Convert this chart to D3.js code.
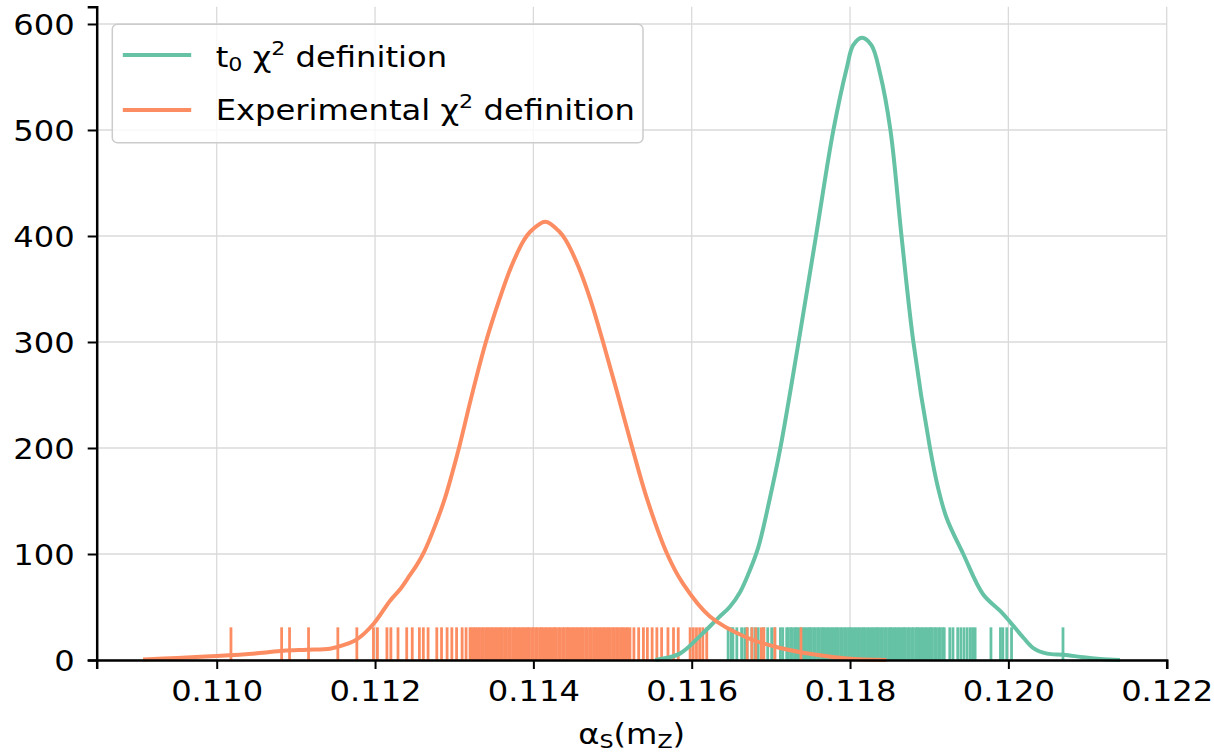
<!DOCTYPE html>
<html>
<head>
<meta charset="utf-8">
<script src="https://cdn.jsdelivr.net/npm/d3@7"></script>
<style>
  html, body { margin: 0; padding: 0; background: #ffffff; }
  svg text { font-family: "DejaVu Sans", sans-serif; fill: #000; }
</style>
</head>
<body>
<svg id="chart" width="1214" height="755"></svg>
<script>
// ---------------- data ----------------
const seriesNames = ["t0 \u03c7\u00b2 definition", "Experimental \u03c7\u00b2 definition"];
const seriesColors = ["#66c2a5", "#fc8d62"];

// KDE curve for t0 definition: [alpha_s, density]
const t0CurveX = [0.11554, 0.11585, 0.11611, 0.11634, 0.11648, 0.11661, 0.11672, 0.11684, 0.11698, 0.11712,
  0.11735, 0.11757, 0.11779, 0.11796, 0.11804, 0.11815, 0.11827, 0.11838, 0.11851, 0.11865,
  0.11880, 0.11901, 0.11911, 0.11922, 0.11943, 0.11968, 0.11990, 0.12002, 0.12019, 0.12032,
  0.12049, 0.12070, 0.12095, 0.12116, 0.12141];
const t0CurveY = [0, 6, 23, 40, 50, 64, 82, 106, 150, 200,
  300, 400, 500, 559, 580, 587, 580, 553, 500, 400,
  300, 200, 163, 134, 100, 62, 46, 36, 21, 11,
  6, 5, 2.5, 1, 0];

// KDE curve for experimental definition
const expCurveX = [0.10907, 0.10950, 0.11000, 0.11051, 0.11084, 0.11114, 0.11143, 0.11160, 0.11177, 0.11198,
  0.11219, 0.11232, 0.11244, 0.11253, 0.11262, 0.11276, 0.11288, 0.11297, 0.11306, 0.11323,
  0.11340, 0.11357, 0.11372, 0.11388, 0.11396, 0.11415, 0.11433, 0.11441, 0.11457, 0.11472,
  0.11488, 0.11506, 0.11525, 0.11544, 0.11569, 0.11589, 0.11623, 0.11670, 0.11712, 0.11753,
  0.11796, 0.11846];
const expCurveY = [0.5, 2, 3.8, 6.3, 8.8, 9.7, 10.7, 14, 19.5, 34,
  56, 67, 80, 90, 102, 127, 152, 175, 200, 252,
  300, 340, 371, 396, 404, 413.5, 404, 396, 371, 340,
  300, 252, 200, 151, 100, 72, 41, 21, 11.3, 5.4,
  1.5, 0];

// rug samples (individual replicas)
const t0Samples = [0.11646, 0.11650, 0.11652, 0.11657, 0.11663, 0.11667, 0.11670, 0.11676, 0.11680, 0.11684,
  0.11691, 0.11696, 0.11701, 0.11705, 0.11712, 0.11715,
  0.11720, 0.11722, 0.11725, 0.11727, 0.11730, 0.11732, 0.11734, 0.11737, 0.11739, 0.11742, 0.11744, 0.11747,
  0.11749, 0.11751, 0.11754, 0.11756, 0.11759, 0.11761, 0.11764, 0.11766, 0.11768, 0.11771, 0.11773, 0.11776,
  0.11778, 0.11781, 0.11783, 0.11785, 0.11788, 0.11790, 0.11793, 0.11795, 0.11798, 0.11800, 0.11802, 0.11805,
  0.11807, 0.11810, 0.11812, 0.11815, 0.11817, 0.11819, 0.11822, 0.11824, 0.11827, 0.11829, 0.11832, 0.11834,
  0.11836, 0.11839, 0.11841, 0.11844, 0.11846, 0.11849, 0.11851, 0.11853, 0.11856, 0.11858, 0.11861, 0.11863,
  0.11866, 0.11868, 0.11870, 0.11873, 0.11875, 0.11878, 0.11880, 0.11883, 0.11885, 0.11887, 0.11890, 0.11892,
  0.11895, 0.11897, 0.11900, 0.11902, 0.11904, 0.11907, 0.11909, 0.11912, 0.11914, 0.11917, 0.11919,
  0.11926, 0.11930, 0.11936, 0.11940, 0.11944, 0.11948, 0.11952, 0.11955, 0.11958,
  0.11978, 0.11990, 0.11993, 0.11998, 0.12004, 0.12069];

const expSamples = [0.11018, 0.11082, 0.11092, 0.11116, 0.11153, 0.11177, 0.11198, 0.11203, 0.11215, 0.11220,
  0.11229, 0.11240, 0.11247, 0.11256, 0.11261, 0.11267, 0.11278, 0.11284, 0.11291, 0.11297, 0.11303, 0.11310, 0.11315,
  0.11320, 0.11322, 0.11325, 0.11327, 0.11330, 0.11332, 0.11335, 0.11337, 0.11340, 0.11342, 0.11344, 0.11347,
  0.11349, 0.11352, 0.11354, 0.11357, 0.11359, 0.11361, 0.11364, 0.11366, 0.11369, 0.11371, 0.11374, 0.11376,
  0.11378, 0.11381, 0.11383, 0.11386, 0.11388, 0.11391, 0.11393, 0.11395, 0.11398, 0.11400, 0.11403, 0.11405,
  0.11408, 0.11410, 0.11412, 0.11415, 0.11417, 0.11420, 0.11422, 0.11425, 0.11427, 0.11429, 0.11432, 0.11434,
  0.11437, 0.11439, 0.11442, 0.11444, 0.11446, 0.11449, 0.11451, 0.11454, 0.11456, 0.11459, 0.11461, 0.11463,
  0.11466, 0.11468, 0.11471, 0.11473, 0.11476, 0.11478, 0.11480, 0.11483, 0.11485, 0.11488, 0.11490, 0.11493,
  0.11495, 0.11497, 0.11500, 0.11502, 0.11505, 0.11507, 0.11510, 0.11512, 0.11514, 0.11517, 0.11519, 0.11522,
  0.11527, 0.11533, 0.11539, 0.11544, 0.11550, 0.11556, 0.11562, 0.11570, 0.11577, 0.11583,
  0.11598, 0.11602, 0.11606, 0.11610, 0.11614, 0.11619, 0.11670, 0.11676, 0.11681, 0.11688, 0.11691, 0.11705, 0.11738];

const xTicks = [0.110, 0.112, 0.114, 0.116, 0.118, 0.120, 0.122];
const yTicks = [0, 100, 200, 300, 400, 500, 600];
const xDomain = [0.108484, 0.122];
const yDomain = [0, 616.3];

// ---------------- layout ----------------
const mLeft = 96.7, mRight = 1166.7, mTop = 6.7, mBottom = 660;
const fontSize = 29;
const stretch = 1.11;   // horizontal stretch of text in the reference

const svg = d3.select("#chart");
const x = d3.scaleLinear().domain(xDomain).range([mLeft, mRight]);
const y = d3.scaleLinear().domain(yDomain).range([mBottom, mTop]);

// grid
const grid = svg.append("g");
grid.selectAll("line.gx").data(xTicks).join("line")
  .attr("x1", d => x(d)).attr("x2", d => x(d)).attr("y1", mTop).attr("y2", mBottom)
  .attr("stroke", "#dadada").attr("stroke-width", 1.3);
grid.selectAll("line.gy").data(yTicks).join("line")
  .attr("x1", mLeft).attr("x2", mRight).attr("y1", d => y(d)).attr("y2", d => y(d))
  .attr("stroke", "#dadada").attr("stroke-width", 1.3);

// rugs
const rugH = (mBottom - mTop) * 0.05;
function rug(samples, color) {
  svg.append("g").selectAll("line").data(samples).join("line")
    .attr("x1", d => x(d)).attr("x2", d => x(d))
    .attr("y1", mBottom).attr("y2", mBottom - rugH)
    .attr("stroke", color).attr("stroke-width", 2.8);
}
rug(t0Samples, seriesColors[0]);
rug(expSamples, seriesColors[1]);

// curves
const line = d3.line().x(d => x(d[0])).y(d => y(d[1])).curve(d3.curveCatmullRom.alpha(0.5));
svg.append("path").datum(d3.zip(t0CurveX, t0CurveY))
  .attr("d", line).attr("fill", "none").attr("stroke", seriesColors[0]).attr("stroke-width", 4)
  .attr("stroke-linejoin", "round");
svg.append("path").datum(d3.zip(expCurveX, expCurveY))
  .attr("d", line).attr("fill", "none").attr("stroke", seriesColors[1]).attr("stroke-width", 4)
  .attr("stroke-linejoin", "round");

// axes
const xAxis = svg.append("g").attr("transform", `translate(0,${mBottom})`)
  .call(d3.axisBottom(x).tickValues(xTicks).tickFormat(d3.format(".3f")).tickSizeOuter(0).tickSize(9).tickPadding(10));
const yAxis = svg.append("g").attr("transform", `translate(${mLeft},0)`)
  .call(d3.axisLeft(y).tickValues(yTicks).tickSizeOuter(0).tickSize(9).tickPadding(13));
[xAxis, yAxis].forEach(a => {
  a.select(".domain").attr("stroke", "#000").attr("stroke-width", 2.5);
  a.selectAll(".tick line").attr("stroke", "#000").attr("stroke-width", 2);
  a.selectAll(".tick text").attr("font-size", fontSize).attr("font-family", "DejaVu Sans").attr("fill", "#000");
});
xAxis.selectAll(".tick text").attr("dy", "0.76em").attr("transform", `scale(${stretch},1)`);
yAxis.selectAll(".tick text").attr("dy", "0.36em")
  .attr("x", -22 / stretch).attr("transform", `scale(${stretch},1)`);

// x label alpha_S(m_Z)
const xl = svg.append("text")
  .attr("transform", `translate(${(mLeft + mRight) / 2},744) scale(${stretch},1)`)
  .attr("text-anchor", "middle").attr("font-size", fontSize);
xl.append("tspan").text("\u03b1");
xl.append("tspan").attr("font-size", 20).attr("dy", 4).text("S");
xl.append("tspan").attr("dy", -4).text("(m");
xl.append("tspan").attr("font-size", 20).attr("dy", 4).text("Z");
xl.append("tspan").attr("dy", -4).text(")");

// legend
const lg = svg.append("g");
lg.append("rect").attr("x", 112.3).attr("y", 24.3).attr("width", 530.7).attr("height", 118.4)
  .attr("rx", 5).attr("fill", "#fff").attr("fill-opacity", 0.8)
  .attr("stroke", "#cccccc").attr("stroke-width", 1.5);
const legendLineY = [55, 110];
const legendTextY = [67, 120];
seriesNames.forEach((name, i) => {
  lg.append("line").attr("x1", 122.8).attr("x2", 191.2)
    .attr("y1", legendLineY[i]).attr("y2", legendLineY[i])
    .attr("stroke", seriesColors[i]).attr("stroke-width", 4);
  const t = lg.append("text")
    .attr("transform", `translate(215.7,${legendTextY[i]}) scale(${stretch},1)`)
    .attr("font-size", fontSize);
  if (i === 0) {
    t.append("tspan").text("t");
    t.append("tspan").attr("font-size", 20).attr("dy", 4).text("0");
    t.append("tspan").attr("dy", -4).text(" \u03c7");
  } else {
    t.append("tspan").text("Experimental \u03c7");
  }
  t.append("tspan").attr("font-size", 20).attr("dy", -12).text("2");
  t.append("tspan").attr("dy", 12).text(" definition");
});
</script>
</body>
</html>
